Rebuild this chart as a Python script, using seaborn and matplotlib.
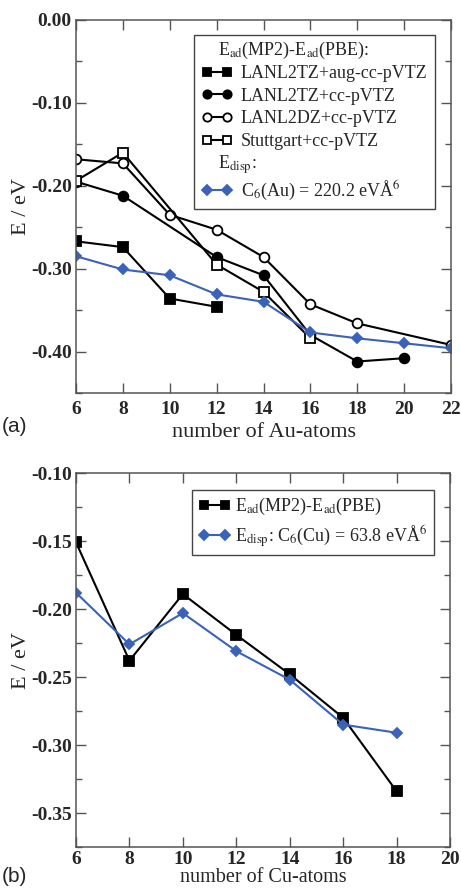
import numpy as np
import pandas as pd
import matplotlib
matplotlib.use("Agg")
import matplotlib.pyplot as plt
import seaborn as sns
from matplotlib.lines import Line2D
from matplotlib.ticker import MultipleLocator, FormatStrFormatter

# datos panel (a): Au
x_aug = [6, 8, 10, 12]
y_aug = [-0.267, -0.274, -0.336, -0.346]
x_tz = [6, 8, 12, 14, 16, 18, 20]
y_tz = [-0.195, -0.212, -0.286, -0.308, -0.380, -0.412, -0.408]
x_dz = [6, 8, 10, 12, 14, 16, 18, 22]
y_dz = [-0.168, -0.173, -0.235, -0.253, -0.286, -0.343, -0.366, -0.392]
x_stu = [6, 8, 12, 14, 16]
y_stu = [-0.194, -0.160, -0.295, -0.328, -0.384]
x_au_disp = [6, 8, 10, 12, 14, 16, 18, 20, 22]
y_au_disp = [-0.285, -0.301, -0.308, -0.331, -0.340, -0.377, -0.384, -0.390, -0.396]

# datos panel (b): Cu
x_cu = [6, 8, 10, 12, 14, 16, 18]
y_cu_mp2 = [-0.151, -0.238, -0.189, -0.219, -0.248, -0.280, -0.334]
y_cu_disp = [-0.188, -0.226, -0.203, -0.231, -0.252, -0.285, -0.291]

labels_au = ["LANL2TZ+aug-cc-pVTZ", "LANL2TZ+cc-pVTZ", "LANL2DZ+cc-pVTZ", "Stuttgart+cc-pVTZ"]
cabeceras_au = [r"E$_{\rm ad}$(MP2)-E$_{\rm ad}$(PBE):", r"E$_{\rm disp}$:"]

AZUL = "#3a62b8"
FS_LEG = 13

sns.set_theme(style="ticks")
plt.rcParams["font.family"] = ["Liberation Serif", "DejaVu Serif"]
plt.rcParams["mathtext.fontset"] = "stix"

fig = plt.figure(figsize=(4.61, 8.88), dpi=100)
ax1 = fig.add_axes([76 / 461, 1 - 393 / 888, 375 / 461, 373 / 888])
ax2 = fig.add_axes([76 / 461, 1 - 847 / 888, 374 / 461, 374 / 888])


def serie(ax, x, y, marker, mfc, color="black", ms=7):
    df = pd.DataFrame({"x": x, "y": y})
    sns.lineplot(data=df, x="x", y="y", ax=ax, color=color, marker=marker, markersize=ms,
                 markerfacecolor=mfc, markeredgecolor=color, markeredgewidth=1.3,
                 linewidth=1.5, sort=False, estimator=None)


def estilo(ax, xpad=6):
    ax.tick_params(which="both", direction="in", top=True, right=True, labelsize=14,
                   color="#555555", width=1)
    ax.tick_params(which="major", length=7.5)
    ax.tick_params(which="minor", length=4.5)
    ax.tick_params(axis="x", pad=xpad)
    ax.tick_params(axis="y", pad=3)
    for s in ax.spines.values():
        s.set_color("#555555")
        s.set_linewidth(1.1)
    for lab in ax.get_xticklabels() + ax.get_yticklabels():
        lab.set_fontweight("bold")
    ax.set_ylabel("E / eV", fontsize=16, labelpad=0)


def mano(color, marker, mfc, ms):
    return Line2D([], [], color=color, marker=marker, mfc=mfc, mec=color, ms=ms, lw=1.5, mew=1.3)


# ---- panel (a)
serie(ax1, x_aug, y_aug, "s", "black")
serie(ax1, x_tz, y_tz, "o", "black")
serie(ax1, x_dz, y_dz, "o", "white")
serie(ax1, x_stu, y_stu, "s", "white", ms=7.5)
serie(ax1, x_au_disp, y_au_disp, "D", AZUL, color=AZUL, ms=5.5)

ax1.set_xlim(6, 22)
ax1.set_ylim(-0.45, 0.0)
ax1.xaxis.set_major_locator(MultipleLocator(2))
ax1.yaxis.set_major_locator(MultipleLocator(0.1))
ax1.yaxis.set_minor_locator(MultipleLocator(0.05))
ax1.yaxis.set_major_formatter(FormatStrFormatter("%.2f"))
ax1.set_xlabel("number of Au-atoms", fontsize=16, labelpad=3)
estilo(ax1)

blank = Line2D([], [], linestyle="none")
h_au = [
    blank,
    mano("black", "s", "black", 6),
    mano("black", "o", "black", 6),
    mano("black", "o", "white", 6),
    mano("black", "s", "white", 6),
    blank,
    mano(AZUL, "D", AZUL, 5),
]
l_au = [" "] + labels_au + [" ", r"C$_6$(Au) = 220.2 eVÅ$^6$"]
leg1 = ax1.legend(h_au, l_au, loc="upper right", bbox_to_anchor=(0.957, 0.96),
                  borderaxespad=0, fancybox=False, edgecolor="#444444", framealpha=1,
                  fontsize=FS_LEG, numpoints=2, handlelength=1.75, handletextpad=0.45,
                  labelspacing=0.32, borderpad=0.4)
leg1.get_frame().set_linewidth(1.0)

# cabeceras del legend en las filas vacias
fig.canvas.draw()
textos = leg1.get_texts()
inv = ax1.transAxes.inverted()
for idx, cab in zip([0, 5], cabeceras_au):
    bb = textos[idx].get_window_extent()
    yc = inv.transform((0, (bb.y0 + bb.y1) / 2))[1]
    ax1.text(0.379, yc, cab, transform=ax1.transAxes,
             fontsize=FS_LEG, va="center", ha="left", zorder=10)

# ---- panel (b)
serie(ax2, x_cu, y_cu_mp2, "s", "black")
serie(ax2, x_cu, y_cu_disp, "D", AZUL, color=AZUL, ms=5.5)

ax2.set_xlim(6, 20)
ax2.set_ylim(-0.375, -0.10)
ax2.xaxis.set_major_locator(MultipleLocator(2))
ax2.yaxis.set_major_locator(MultipleLocator(0.05))
ax2.yaxis.set_minor_locator(MultipleLocator(0.025))
ax2.yaxis.set_major_formatter(FormatStrFormatter("%.2f"))
ax2.set_xlabel("number of Cu-atoms", fontsize=14.5, labelpad=0)
estilo(ax2, xpad=3)

h_cu = [mano("black", "s", "black", 6), mano(AZUL, "D", AZUL, 5)]
l_cu = [r"E$_{\rm ad}$(MP2)-E$_{\rm ad}$(PBE)", r"E$_{\rm disp}$: C$_6$(Cu) = 63.8 eVÅ$^6$"]
leg2 = ax2.legend(h_cu, l_cu, loc="upper right", bbox_to_anchor=(0.957, 0.955),
                  borderaxespad=0, fancybox=False, edgecolor="#444444", framealpha=1,
                  fontsize=FS_LEG, numpoints=2, handlelength=1.75, handletextpad=0.3,
                  labelspacing=0.32, borderpad=0.35)
leg2.get_frame().set_linewidth(1.0)

fig.text(0.003, 1 - 426 / 888, "(a)", fontsize=15, family="Liberation Sans", va="center")
fig.text(0.003, 1 - 876 / 888, "(b)", fontsize=15, family="Liberation Sans", va="center")

fig.savefig("out.png", dpi=100)
